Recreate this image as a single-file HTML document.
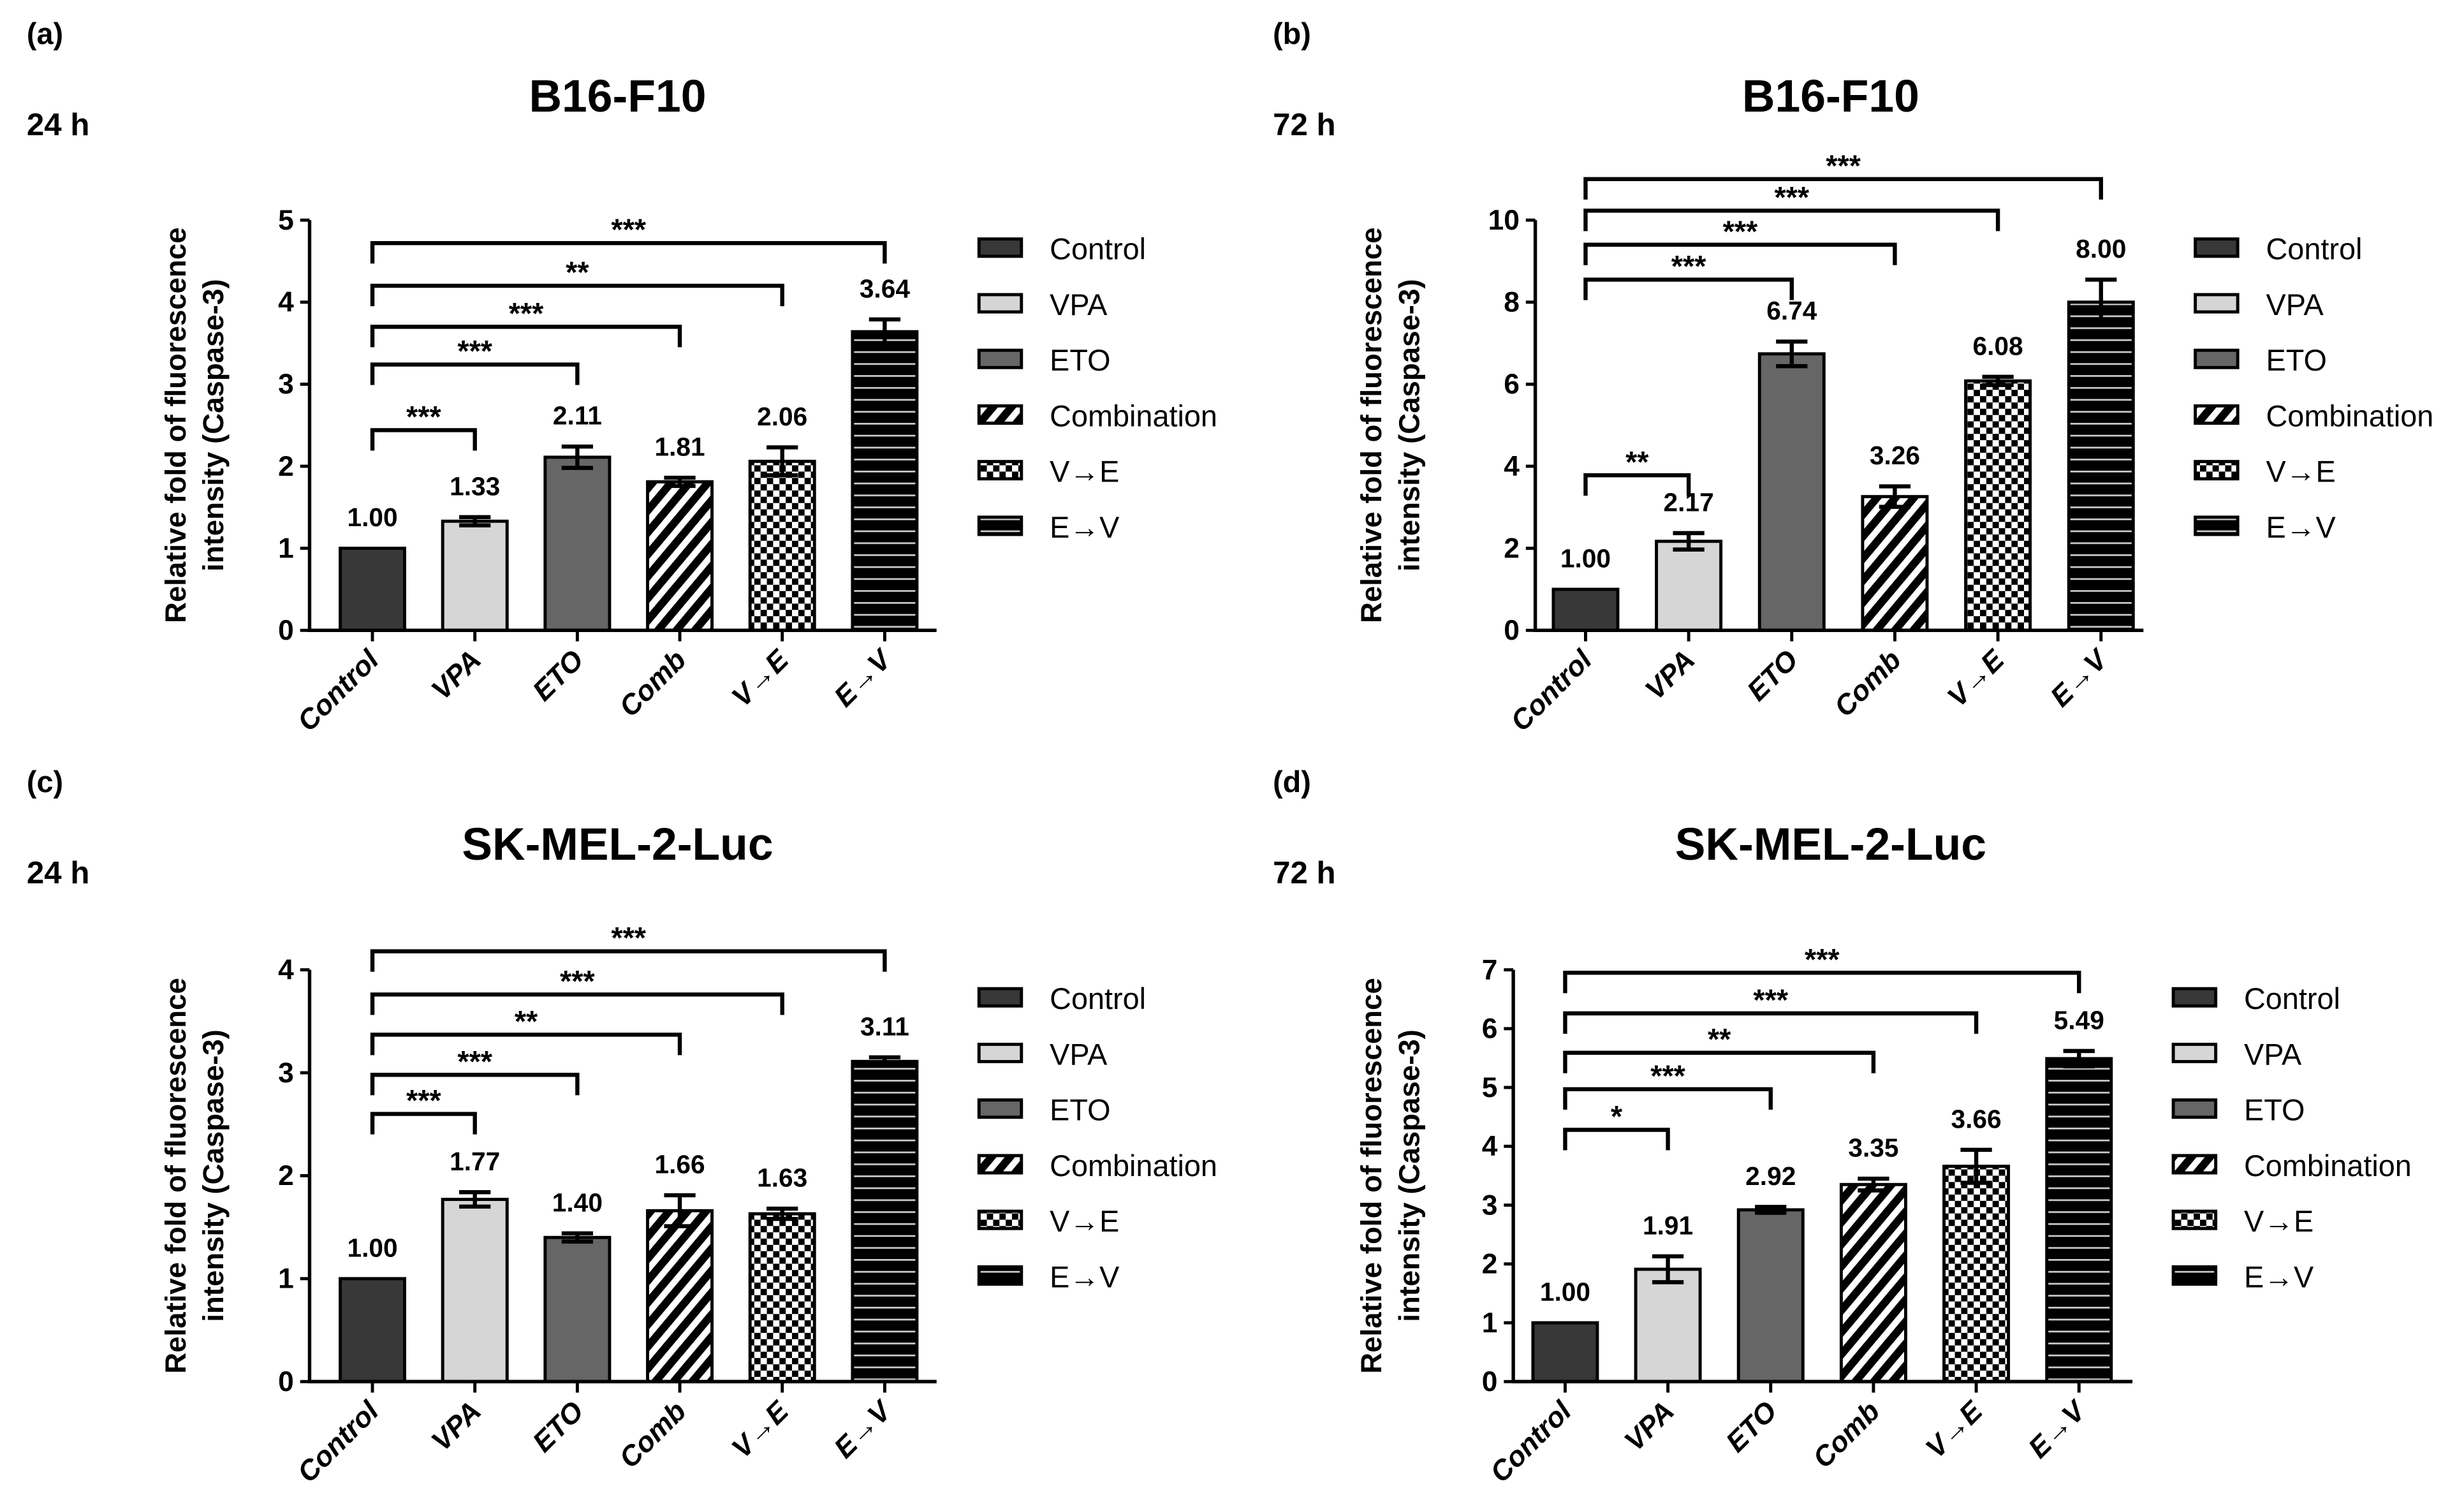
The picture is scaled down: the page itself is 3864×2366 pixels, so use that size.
<!DOCTYPE html>
<html><head><meta charset="utf-8"><style>
html,body{margin:0;padding:0;background:#fff;}
svg{display:block;}
text{font-family:"Liberation Sans",Arial,sans-serif;}
</style></head><body>
<svg id="fig" width="3864" height="2366" viewBox="0 0 1568 960" xmlns="http://www.w3.org/2000/svg">
<defs>
<pattern id="pDiag" width="9" height="9" patternUnits="userSpaceOnUse" patternTransform="rotate(40)">
<rect width="9" height="9" fill="#fff"/><rect width="5" height="9" fill="#000"/></pattern>
<pattern id="pCheck" width="8" height="8" patternUnits="userSpaceOnUse">
<rect width="8" height="8" fill="#fff"/><rect width="4" height="4" fill="#000"/><rect x="4" y="4" width="4" height="4" fill="#000"/></pattern>
<pattern id="pHoriz" width="10" height="7.6" patternUnits="userSpaceOnUse">
<rect width="10" height="7.6" fill="#000"/><rect y="3" width="10" height="1.1" fill="#ccc"/></pattern>
</defs>
</svg>
<script>
const categories = ["Control","VPA","ETO","Comb","V\u2192E","E\u2192V"];
const legendLabels = ["Control","VPA","ETO","Combination","V\u2192E","E\u2192V"];
const valuesA = [1.00,1.33,2.11,1.81,2.06,3.64];
const errorsA = [0,0.05,0.13,0.05,0.17,0.15];
const valuesB = [1.00,2.17,6.74,3.26,6.08,8.00];
const errorsB = [0,0.2,0.3,0.25,0.1,0.55];
const valuesC = [1.00,1.77,1.40,1.66,1.63,3.11];
const errorsC = [0,0.07,0.04,0.15,0.05,0.04];
const valuesD = [1.00,1.91,2.92,3.35,3.66,5.49];
const errorsD = [0,0.22,0.05,0.1,0.28,0.13];
const bracketLevelsA = [2.44,3.24,3.7,4.2,4.72];
const bracketLevelsB = [3.78,8.55,9.4,10.23,11.0];
const bracketLevelsC = [2.6,2.98,3.37,3.76,4.18];
const bracketLevelsD = [4.28,4.97,5.59,6.26,6.95];
const starsA = ["***","***","***","**","***"];
const starsB = ["**","***","***","***","***"];
const starsC = ["***","***","**","***","***"];
const starsD = ["*","***","**","***","***"];
const ticksA = [0,1,2,3,4,5];
const ticksB = [0,2,4,6,8,10];
const ticksC = [0,1,2,3,4];
const ticksD = [0,1,2,3,4,5,6,7];

const fills = ["#383838","#d6d6d6","#666","url(#pDiag)","url(#pCheck)","url(#pHoriz)"];
const svg = document.getElementById('fig');
const NS = "http://www.w3.org/2000/svg";
function mk(tag, attrs, parent, txt){
  const e = document.createElementNS(NS, tag);
  for (const k in attrs) e.setAttribute(k, attrs[k]);
  if (txt !== undefined) e.textContent = txt;
  (parent||svg).appendChild(e);
  return e;
}

function panel(p){
  const g = mk('g',{});
  
  
  const yS = v => p.y0 - (v/p.ymax)*(p.y0-p.ytop);
  const xS = i => p.bx0 + i*p.bstep;
  let t = mk('text',{x:p.lx,y:p.ly,'font-size':19,'font-weight':'bold'},g,'('+p.id+')');
   
  t = mk('text',{x:p.lx,y:p.ly+58,'font-size':20,'font-weight':'bold'},g,p.time);
   
  t = mk('text',{x:p.tx,y:p.ly+43,'font-size':29,'font-weight':'bold','text-anchor':'middle'},g,p.title);
   
  const yc = (p.y0+p.ytop)/2;
  t = mk('text',{x:0,y:0,'font-size':18.5,'font-weight':'bold','text-anchor':'middle',transform:`translate(${p.ytx},${yc}) rotate(-90)`},g,'Relative fold of fluorescence');
   
  t = mk('text',{x:0,y:0,'font-size':18.5,'font-weight':'bold','text-anchor':'middle',transform:`translate(${p.ytx+24},${yc}) rotate(-90)`},g,'intensity (Caspase-3)');
   
  p.vals.forEach((v,i)=>{
    const x = xS(i), w = 41;
    const r = mk('rect',{x:x-w/2,y:yS(v),width:w,height:p.y0-yS(v),fill:fills[i],stroke:'#000','stroke-width':2},g);
    
    
    const e = p.errs[i];
    if (e>0){
      const eb = mk('path',{d:`M${x},${yS(v-e)}V${yS(v+e)}M${x-10},${yS(v+e)}H${x+10}M${x-10},${yS(v-e)}H${x+10}`,stroke:'#000','stroke-width':2.6,fill:'none'},g);
       
    }
    const lab = mk('text',{x:x,y:yS(v+e)-14,'font-size':16.5,'font-weight':'bold','text-anchor':'middle'},g,v.toFixed(2));
     
    const tk = mk('line',{x1:x,x2:x,y1:p.y0,y2:p.y0+7,stroke:'#000','stroke-width':2},g);
     
    const xl = mk('text',{x:0,y:0,'font-size':18,'font-weight':'bold','font-style':'italic','text-anchor':'end',transform:`translate(${x+5},${p.y0+20}) rotate(-45)`},g,categories[i]);
     
  });
  const ya = mk('path',{d:`M${p.ax},${p.ytop}V${p.y0}H${p.axEnd}`,stroke:'#000','stroke-width':2.2,fill:'none'},g);
   
  p.ticks.forEach(v=>{
    const tl = mk('line',{x1:p.ax-6,x2:p.ax,y1:yS(v),y2:yS(v),stroke:'#000','stroke-width':2},g);
     
    const tt = mk('text',{x:p.ax-10,y:yS(v)+6,'font-size':18,'font-weight':'bold','text-anchor':'end'},g,String(v));
     
  });
  p.br.forEach((lv,k)=>{
    const y = yS(lv), x1 = xS(0), x2 = xS(k+1);
    const b = mk('path',{d:`M${x1},${y+13}V${y}H${x2}V${y+13}`,stroke:'#000','stroke-width':2.6,fill:'none'},g);
     
    const s = mk('text',{x:(x1+x2)/2,y:y-2,'font-size':19,'font-weight':'bold','text-anchor':'middle'},g,p.stars[k]);
     
  });
  legendLabels.forEach((l,i)=>{
    const yy = p.legY + i*35.4;
    const sw = mk('rect',{x:p.legX,y:yy-6,width:27,height:11,fill:fills[i],stroke:'#000','stroke-width':2},g);
     
    const lt = mk('text',{x:p.legX+45,y:yy+7,'font-size':19},g,l);
     
  });
}

panel({id:'a',time:'24 h',title:'B16-F10',lx:17,ly:28,tx:393,ax:197,axEnd:596,y0:401,ytop:140,ymax:5,bx0:237,bstep:65.2,vals:valuesA,errs:errorsA,ticks:ticksA,br:bracketLevelsA,stars:starsA,legX:623,legY:158,ytx:118});
panel({id:'b',time:'72 h',title:'B16-F10',lx:810,ly:28,tx:1165,ax:977,axEnd:1364,y0:401,ytop:140,ymax:10,bx0:1009,bstep:65.6,vals:valuesB,errs:errorsB,ticks:ticksB,br:bracketLevelsB,stars:starsB,legX:1397,legY:158,ytx:879});
panel({id:'c',time:'24 h',title:'SK-MEL-2-Luc',lx:17,ly:504,tx:393,ax:197,axEnd:596,y0:879,ytop:617,ymax:4,bx0:237,bstep:65.2,vals:valuesC,errs:errorsC,ticks:ticksC,br:bracketLevelsC,stars:starsC,legX:623,legY:635,ytx:118});
panel({id:'d',time:'72 h',title:'SK-MEL-2-Luc',lx:810,ly:504,tx:1165,ax:963,axEnd:1357,y0:879,ytop:617,ymax:7,bx0:996,bstep:65.4,vals:valuesD,errs:errorsD,ticks:ticksD,br:bracketLevelsD,stars:starsD,legX:1383,legY:635,ytx:879});
</script>
</body></html>
